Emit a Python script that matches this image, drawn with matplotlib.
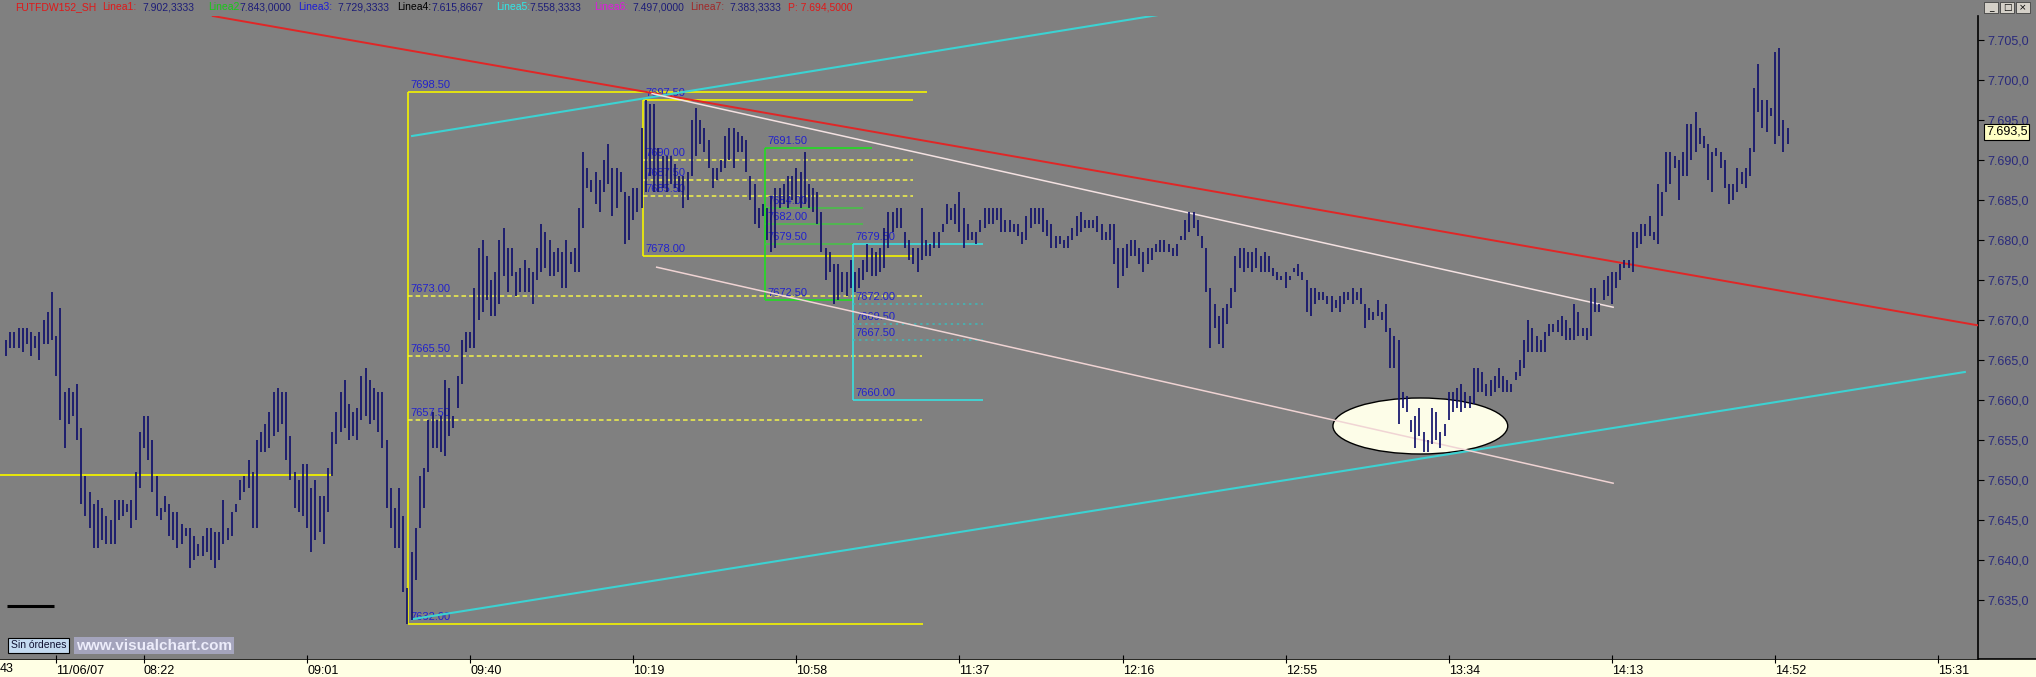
"""Intraday 1-minute bar chart (Visual Chart style) with Fibonacci boxes and trend lines."""

import matplotlib

matplotlib.use("Agg")
import matplotlib.pyplot as plt
from matplotlib import font_manager
from matplotlib.patches import Ellipse, Rectangle

W, H, DPI = 2036, 677, 100
BG = "#808080"
BAR_COLOR = "#12126c"
LABEL_BLUE = "#2222cc"

# ---- price bars (1 bar per minute, index 0 = 08:00) ----
first_bar = -11
highs = [
    7667.5, 7668.5, 7668.5, 7669, 7669, 7669, 7668.5, 7668, 7668.5, 7670,
    7671, 7673.5, 7668, 7671.5, 7661, 7661.5, 7661, 7662, 7656.5, 7650.5,
    7648.5, 7647, 7647.5, 7646.5, 7645.5, 7645, 7647.5, 7647.5, 7647.5, 7647,
    7647.5, 7651, 7656, 7658, 7658, 7655, 7650.5, 7646.5, 7648, 7647,
    7646, 7646, 7644.5, 7644, 7644, 7643, 7642, 7643, 7644, 7644,
    7643.5, 7643.5, 7647.5, 7644, 7646, 7647, 7650, 7650.5, 7652.5, 7651,
    7655, 7656, 7657, 7658.5, 7661, 7661.5, 7661, 7661, 7655.5, 7651,
    7650, 7652, 7652, 7649, 7650, 7648, 7648, 7651.5, 7656, 7658.5,
    7661, 7662.5, 7659.5, 7658.5, 7659, 7663, 7664, 7662.5, 7661.5, 7661,
    7661, 7655, 7649, 7646.5, 7649, 7645.5, 7636.5, 7641, 7644, 7650.5,
    7651.5, 7657.5, 7658.5, 7657.5, 7658, 7662.5, 7661.5, 7658, 7663, 7667.5,
    7668.5, 7668.5, 7674, 7679, 7680, 7678, 7675, 7676, 7680, 7681.5,
    7679, 7679, 7676, 7676.5, 7677.5, 7676.5, 7676, 7679, 7682, 7681,
    7680, 7678.5, 7679, 7678.5, 7680, 7678.5, 7679, 7684, 7691, 7689,
    7687.5, 7688.5, 7687.5, 7690, 7692, 7689, 7689, 7688.5, 7686, 7685.5,
    7686.5, 7686.5, 7694, 7697.5, 7697, 7697, 7691.5, 7690.5, 7690.5, 7690.5,
    7689.5, 7688, 7688, 7688.5, 7695, 7696.5, 7695, 7694, 7692.5, 7689,
    7689, 7690, 7693, 7694, 7694, 7693.5, 7693, 7692.5, 7688, 7687,
    7684, 7684.5, 7684, 7685.5, 7686.5, 7686.5, 7687, 7688, 7688, 7689,
    7688.5, 7691, 7687, 7686.5, 7686, 7683.5, 7679, 7678.5, 7677, 7677,
    7676, 7676, 7677.5, 7676, 7676.5, 7677.5, 7679.5, 7679, 7678.5, 7679,
    7681.5, 7683.5, 7683.5, 7684, 7684, 7681, 7680, 7679, 7679, 7684,
    7680, 7679.5, 7681, 7681, 7682, 7684.5, 7684, 7684.5, 7686, 7684,
    7682, 7681, 7681, 7682.5, 7684, 7684, 7684, 7684, 7684, 7682.5,
    7682.5, 7682, 7682, 7681, 7683, 7684, 7684, 7684, 7684, 7682.5,
    7682, 7680.5, 7680.5, 7680, 7680.5, 7681.5, 7683, 7683.5, 7682.5, 7682.5,
    7682.5, 7683, 7682, 7681, 7682, 7682, 7679, 7679, 7679.5, 7680,
    7680, 7679, 7678.5, 7679, 7679, 7679.5, 7680, 7680, 7679.5, 7679,
    7679.5, 7680.5, 7682.5, 7683.5, 7683.5, 7682.5, 7680.5, 7679, 7674, 7672,
    7670.5, 7671.5, 7672, 7674, 7678, 7679, 7679, 7678.5, 7678.5, 7679,
    7678, 7678.5, 7678, 7676.5, 7676, 7675.5, 7676, 7675.5, 7676.5, 7677,
    7676, 7675, 7674, 7674, 7673.5, 7673.5, 7673, 7673, 7672.5, 7673,
    7673.5, 7673.5, 7674, 7673.5, 7674, 7672, 7671.5, 7671, 7672.5, 7671,
    7672, 7669, 7668, 7667.5, 7661, 7660.5, 7657.5, 7658, 7659, 7656,
    7655, 7659, 7658.5, 7656, 7657, 7661, 7661, 7661.5, 7662, 7661,
    7660.5, 7664, 7664, 7663.5, 7662, 7662.5, 7663, 7664, 7663, 7662.5,
    7662, 7663.5, 7665, 7667.5, 7670, 7669, 7668, 7667.5, 7668.5, 7669.5,
    7669.5, 7670, 7670.5, 7670, 7669, 7672, 7671, 7669, 7669, 7674,
    7674, 7672, 7675, 7675.5, 7676, 7676, 7677, 7677.5, 7677.5, 7681,
    7681, 7682, 7682, 7683, 7681, 7687, 7686, 7691, 7691, 7690.5,
    7690, 7691, 7694.5, 7694.5, 7696, 7694, 7693, 7692, 7691, 7691.5,
    7691, 7690, 7687, 7687, 7689, 7688.5, 7689, 7691.5, 7699, 7702,
    7697.5, 7697.5, 7696.5, 7703.5, 7704, 7695, 7694,
]
lows = [
    7665.5, 7666.5, 7666.5, 7666.5, 7666, 7667, 7665.5, 7666.5, 7665, 7667,
    7667, 7667.5, 7663, 7657.5, 7654, 7657, 7658, 7655, 7647, 7645.5,
    7644, 7641.5, 7641.5, 7642.5, 7642, 7642, 7642, 7645, 7645.5, 7646,
    7644, 7645, 7649, 7654, 7652.5, 7648.5, 7645.5, 7645, 7646, 7643,
    7642.5, 7641.5, 7642, 7643, 7639, 7640, 7640.5, 7640.5, 7641, 7640,
    7639, 7640, 7642, 7642.5, 7643, 7646, 7647.5, 7648.5, 7649, 7644,
    7644, 7653.5, 7653.5, 7654, 7655.5, 7656, 7657, 7652.5, 7650, 7646.5,
    7646, 7645.5, 7644, 7641, 7642.5, 7643.5, 7642, 7646, 7650.5, 7654.5,
    7656, 7656.5, 7655, 7655.5, 7655, 7657.5, 7658, 7657, 7657.5, 7656,
    7654, 7646.5, 7644, 7641.5, 7641.5, 7636, 7632, 7632.5, 7637.5, 7644,
    7646.5, 7651, 7654, 7654, 7653.5, 7653, 7655.5, 7656.5, 7659, 7662,
    7666, 7666.5, 7666.5, 7670, 7671, 7672.5, 7670.5, 7670.5, 7672, 7675.5,
    7673.5, 7675.5, 7673, 7673.5, 7673.5, 7673.5, 7672, 7675, 7676, 7676.5,
    7675.5, 7675.5, 7676, 7674, 7674, 7677, 7676, 7676, 7681.5, 7686.5,
    7686, 7684.5, 7683.5, 7686, 7687, 7683, 7684, 7686, 7679.5, 7680,
    7682.5, 7683.5, 7684, 7686, 7688, 7686, 7686, 7686.5, 7686, 7687,
    7686.5, 7686, 7684, 7685, 7688, 7690.5, 7692, 7691, 7689, 7686.5,
    7687.5, 7688.5, 7689, 7690, 7689, 7691, 7691, 7688.5, 7685, 7682,
    7681.5, 7683, 7680, 7678.5, 7679, 7684, 7684.5, 7684, 7685, 7684.5,
    7684, 7684.5, 7684, 7683.5, 7682, 7678.5, 7675, 7676, 7672, 7672.5,
    7673.5, 7673, 7674, 7673.5, 7674, 7675, 7676, 7675.5, 7675.5, 7676,
    7676.5, 7679, 7681, 7681.5, 7681.5, 7679, 7677.5, 7677, 7676, 7677.5,
    7678, 7678, 7679, 7679, 7681, 7682, 7682.5, 7682, 7681, 7679,
    7680, 7680, 7679.5, 7681, 7681.5, 7682, 7682, 7682.5, 7681, 7681,
    7681, 7681, 7680.5, 7679.5, 7680, 7681.5, 7682, 7682, 7681, 7680.5,
    7679, 7679, 7679.5, 7679, 7679, 7680, 7680.5, 7681, 7681.5, 7681.5,
    7681.5, 7681, 7680, 7680, 7680, 7677, 7674, 7675.5, 7676.5, 7678,
    7678, 7677, 7676, 7677, 7677.5, 7678.5, 7678.5, 7678.5, 7678.5, 7678,
    7678, 7680, 7680, 7681, 7681.5, 7680.5, 7679, 7673.5, 7666.5, 7669,
    7667, 7666.5, 7669.5, 7671.5, 7673.5, 7676.5, 7676, 7676.5, 7676, 7676.5,
    7676, 7676, 7676, 7675.5, 7675, 7675, 7674, 7675, 7676, 7675.5,
    7675, 7671, 7670.5, 7672, 7672.5, 7672.5, 7672, 7671, 7671.5, 7671,
    7672, 7672.5, 7672, 7672.5, 7672, 7669, 7670, 7670, 7670.5, 7670,
    7668.5, 7664, 7664, 7657, 7659, 7658.5, 7656, 7654, 7655.5, 7653.5,
    7653.5, 7654.5, 7655, 7654, 7655.5, 7657.5, 7658.5, 7659, 7658.5, 7659,
    7659, 7659.5, 7661, 7661, 7660.5, 7660.5, 7661, 7661.5, 7661, 7661,
    7661, 7662.5, 7663, 7664, 7666, 7666, 7666, 7666, 7666, 7668,
    7668.5, 7668.5, 7668, 7667.5, 7667.5, 7667.5, 7668, 7668, 7667.5, 7668,
    7671, 7671, 7672.5, 7673, 7672, 7674, 7675, 7676.5, 7676.5, 7676,
    7679, 7679.5, 7680.5, 7680.5, 7680, 7679.5, 7683, 7686, 7687, 7689,
    7685, 7688, 7688, 7690, 7691, 7692, 7691.5, 7687.5, 7686, 7690.5,
    7689, 7686.5, 7684.5, 7685, 7686, 7687, 7686.5, 7688, 7691, 7696,
    7694, 7693.5, 7695.5, 7692, 7693, 7691, 7692,
]
last_price = 7693.5

# ---- axes labels ----
time_ticks = [1, 22, 61, 100, 139, 178, 217, 256, 295, 334, 373, 412, 451]
time_labels = ["11/06/07", "08:22", "09:01", "09:40", "10:19", "10:58", "11:37",
               "12:16", "12:55", "13:34", "14:13", "14:52", "15:31"]
price_ticks = [7635, 7640, 7645, 7650, 7655, 7660, 7665, 7670, 7675, 7680,
               7685, 7690, 7695, 7700, 7705]

# ---- Fibonacci retracements: levels (top .. bottom) ----
fib_a_levels = [7698.5, 7673.0, 7665.5, 7657.5, 7632.0]
fib_b_levels = [7697.5, 7690.0, 7687.5, 7685.5, 7678.0]
fib_c_levels = [7691.5, 7684.0, 7682.0, 7679.5, 7672.5]
fib_d_levels = [7679.5, 7672.0, 7669.5, 7667.5, 7660.0]

# ---- trend lines: (bar, price) pairs ----
red_line = [(142.7, 7698.45), (459.8, 7669.4)]
cyan_upper = [(86.1, 7693.0), (264.2, 7708.1)]
cyan_lower = [(86.1, 7632.6), (457.4, 7663.5)]
pink_upper = [(143.5, 7698.3), (373.3, 7671.6)]
pink_lower = [(144.6, 7676.6), (373.3, 7649.6)]
left_level = 7650.6

header = [
    ("FUTFDW152_SH", "#e01818", 15), ("Linea1:", "#e01818", 102),
    ("7.902,3333", "#1c1c78", 142), ("Linea2:", "#18c818", 208),
    ("7.843,0000", "#1c1c78", 239), ("Linea3:", "#1c1cd8", 298),
    ("7.729,3333", "#1c1c78", 337), ("Linea4:", "#000000", 397),
    ("7.615,8667", "#1c1c78", 431), ("Linea5:", "#30e8e8", 496),
    ("7.558,3333", "#1c1c78", 529), ("Linea6:", "#e018e0", 594),
    ("7.497,0000", "#1c1c78", 632), ("Linea7:", "#a02828", 690),
    ("7.383,3333", "#1c1c78", 729), ("P: 7.694,5000", "#e01818", 788),
]


def es_number(v, nd):
    s = f"{v:,.{nd}f}"
    return s.replace(",", "X").replace(".", ",").replace("X", ".")


installed = {f.name for f in font_manager.fontManager.ttflist}
narrow = "Liberation Sans Narrow" if "Liberation Sans Narrow" in installed else "Liberation Sans"
plt.rcParams["font.family"] = ["Liberation Sans", "DejaVu Sans"]

fig = plt.figure(figsize=(W / DPI, H / DPI), dpi=DPI, facecolor=BG)

# bottom time strip
axt = fig.add_axes([0, 0, 1, 18 / H])
axt.set_zorder(0)
axt.set_facecolor("#ffffe4")
axt.set_xticks([])
axt.set_yticks([])
for side in ("left", "right", "bottom"):
    axt.spines[side].set_visible(False)
axt.spines["top"].set_color("black")
axt.spines["top"].set_linewidth(1.2)

# main price panel
ax = fig.add_axes([0, 18 / H, 1978 / W, (659 - 16) / H])
ax.set_zorder(1)
ax.set_facecolor(BG)
ax.set_xlim(-12.43, 460.55)
ax.set_ylim(7627.625, 7708.0)
for side in ("left", "top", "bottom"):
    ax.spines[side].set_visible(False)
ax.spines["right"].set_color("black")
ax.spines["right"].set_linewidth(1.2)

ax.set_xticks(time_ticks, time_labels)
ax.tick_params(axis="x", direction="inout", length=6, width=0.8, pad=1,
               labelsize=9, colors="black")
for lab in ax.get_xticklabels():
    lab.set_horizontalalignment("left")
    lab.set_fontfamily(narrow)

ax.yaxis.tick_right()
ax.set_yticks(price_ticks, [es_number(v, 1) for v in price_ticks])
ax.tick_params(axis="y", direction="out", length=4, width=0.8, pad=3,
               labelsize=9, labelcolor="#2a2a7c", color="black")

# left horizontal level and small marker line
ax.hlines(left_level, -12.43, 67.2, color="#f0f000", lw=1.3, zorder=2)
ax.hlines(7634.3, -10.75, 0.5, color="black", lw=2.2, zorder=2)


def draw_fib(levels, x0, x_ends, color, style, level_color, lw=1.2):
    ax.vlines(x0, min(levels), max(levels), color=color, lw=lw, zorder=2)
    for i, lv in enumerate(levels):
        edge = i in (0, len(levels) - 1)
        ax.hlines(lv, x0, x_ends[i], color=color if edge else level_color,
                  lw=lw if edge else 1.1,
                  linestyles="solid" if edge else style, zorder=2)
        ax.annotate(f"{lv:.2f}", (x0, lv), xytext=(2, 1.5),
                    textcoords="offset points", color=LABEL_BLUE, fontsize=8,
                    ha="left", va="bottom", zorder=3)


draw_fib(fib_a_levels, 85.1, [209.2, 208, 208, 208, 208.2], "#f4f400",
         (0, (3, 2)), "#f4f44a")
draw_fib(fib_b_levels, 141.3, [205.9] * 5, "#f4f400", (0, (3, 2)), "#f4f44a")
draw_fib(fib_c_levels, 170.5, [196, 194, 194, 191.5, 191.5], "#22dd22",
         "solid", "#44c444")
draw_fib(fib_d_levels, 191.5, [222.6] * 5, "#38e0e0", (0, (1.5, 2.5)),
         "#3cbcbc")

# ellipse highlight
ax.add_patch(Ellipse((327.2, 7656.75), 41.8, 7.0, facecolor="#fdfde8",
                     edgecolor="black", lw=1, zorder=2.5))

# trend lines
ax.axline(red_line[0], red_line[1], color="#e02626", lw=1.4, zorder=3)
ax.plot(*zip(*cyan_upper), color="#3cd2d2", lw=1.5, zorder=3)
ax.plot(*zip(*cyan_lower), color="#3cd2d2", lw=1.5, zorder=3)
ax.plot(*zip(*pink_upper), color="#f4e2e2", lw=1.1, zorder=3)
ax.plot(*zip(*pink_lower), color="#f0d4d4", lw=1.1, zorder=3)

# bars
assert len(highs) == len(lows)
bar_x = list(range(first_bar, first_bar + len(highs)))
ax.vlines(bar_x, lows, highs, colors=BAR_COLOR, lw=1.25, zorder=4)

# last price box
ax.text(1.004, last_price, es_number(last_price, 1), transform=ax.get_yaxis_transform(),
        fontsize=9, color="black", va="center", ha="left", clip_on=False, zorder=6,
        bbox=dict(boxstyle="square,pad=0.15", facecolor="#ffffc4", edgecolor="black", lw=0.8))

# header line
for text, color, xpx in header:
    fig.text(xpx / W, 1 - 7 / H, text, color=color, fontsize=7.5, va="center",
             ha="left", family=narrow)

# window buttons
for i, glyph in enumerate(["_", "\u25a1", "\u00d7"]):
    x0 = 1984 + i * 16
    fig.add_artist(Rectangle((x0 / W, 1 - 13 / H), 14 / W, 11 / H,
                             transform=fig.transFigure, facecolor="#d4d0c8",
                             edgecolor="#404040", lw=0.6))
    fig.text((x0 + 7) / W, 1 - 7.5 / H, glyph, fontsize=6.5, ha="center",
             va="center", color="black", family="DejaVu Sans")

# bottom-left badges
fig.text(11 / W, 1 - 645.5 / H, "Sin órdenes", fontsize=7.5, family=narrow,
         va="center", ha="left", color="#101030",
         bbox=dict(boxstyle="square,pad=0.25", facecolor="#c4daf0", edgecolor="black", lw=0.8))
fig.text(76 / W, 1 - 645.5 / H, "www.visualchart.com", fontsize=11, weight="bold",
         va="center", ha="left", color="#ececfa",
         bbox=dict(boxstyle="square,pad=0.1", facecolor="#a4a4bc", edgecolor="none"))
fig.text(0, 1 - 669 / H, "43", fontsize=9, family=narrow, va="center", ha="left")

fig.savefig("out.png", dpi=DPI, facecolor=BG)
